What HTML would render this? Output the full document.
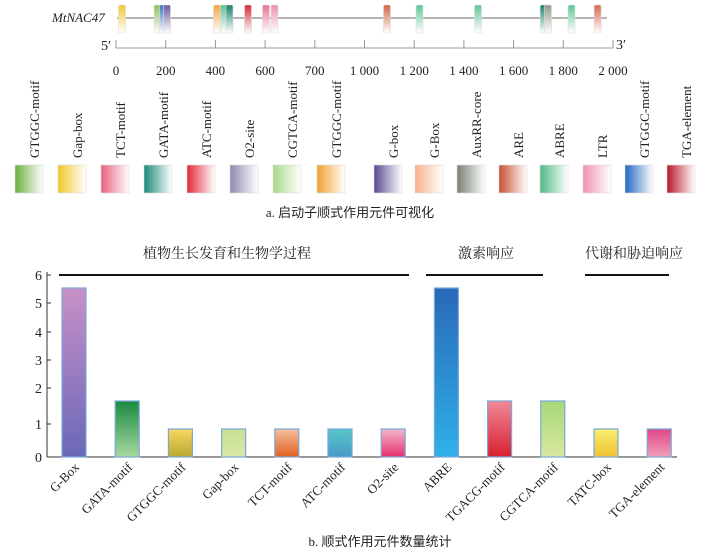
<!DOCTYPE html>
<html><head><meta charset="utf-8"><style>
body{margin:0;background:#fff}
text{font-family:"Liberation Serif","Noto Serif CJK SC",serif;fill:#222}
.cn{font-family:"Liberation Serif","Noto Sans CJK SC",sans-serif}
</style></head><body>
<svg width="702" height="553" viewBox="0 0 702 553" xmlns="http://www.w3.org/2000/svg">
<defs></defs>
<text x="52" y="22" font-size="13" font-style="italic">MtNAC47</text>
<line x1="117" y1="18" x2="607" y2="18" stroke="#888" stroke-width="1.3"/>
<g id="genes"></g>
<line x1="116" y1="48" x2="613" y2="48" stroke="#999" stroke-width="1"/>
<text x="101" y="50" font-size="14">5′</text>
<text x="616" y="49" font-size="14">3′</text>
<g id="ticks" font-size="13" text-anchor="middle"></g>
<g id="legend"></g>
<text x="350" y="217" font-size="13" text-anchor="middle" class="cn">a. 启动子顺式作用元件可视化</text>
<g class="cn" font-size="14" text-anchor="middle">
<text x="227" y="258">植物生长发育和生物学过程</text>
<text x="486" y="258">激素响应</text>
<text x="634" y="258">代谢和胁迫响应</text>
</g>
<line x1="59" y1="275" x2="409" y2="275" stroke="#111" stroke-width="2"/>
<line x1="426" y1="275" x2="543" y2="275" stroke="#111" stroke-width="2"/>
<line x1="585" y1="275" x2="669" y2="275" stroke="#111" stroke-width="2"/>
<line x1="47" y1="272" x2="47" y2="457" stroke="#333"/>
<line x1="47" y1="457" x2="677" y2="457" stroke="#333"/>
<g id="yt" font-size="14" text-anchor="end"></g>
<g id="bars"></g>
<text x="380" y="546" font-size="13" text-anchor="middle" class="cn">b. 顺式作用元件数量统计</text>
</svg>
<script>
const NS="http://www.w3.org/2000/svg";
function el(p,t,a,txt){const e=document.createElementNS(NS,t);for(const k in a)e.setAttribute(k,a[k]);if(txt!==undefined)e.textContent=txt;(typeof p==='string'?document.getElementById(p):p).appendChild(e);return e;}
const defs=document.querySelector('defs');
let gid=0;
function hgrad(c){const id='h'+(gid++);const g=el(defs,'linearGradient',{id:id,x1:0,y1:0,x2:1,y2:0});el(g,'stop',{offset:0,'stop-color':c});el(g,'stop',{offset:1,'stop-color':'#fff'});return id;}
function vgrad(c1,c2){const id='g'+(gid++);const g=el(defs,'linearGradient',{id:id,x1:0,y1:0,x2:0,y2:1});el(g,'stop',{offset:0,'stop-color':c1});el(g,'stop',{offset:1,'stop-color':c2});return id;}
const genes=[[122,'#f2c830'],[157.5,'#8cc060'],[163,'#3a78c8'],[167,'#6a5aa0'],[217,'#f0a840'],[224,'#60c090'],[229.5,'#188070'],[248,'#d02838'],[266,'#ec7090'],[274.5,'#ec90a8'],[387,'#d06848'],[419.5,'#60c898'],[478,'#60c898'],[543.6,'#188070'],[548,'#909a88'],[571.5,'#60c898'],[597.6,'#d86850']];
genes.forEach(([x,c])=>{const id=vgrad(c,'#fff');el('genes','rect',{x:x-3.5,y:5,width:7,height:28,rx:1.5,fill:'url(#'+id+')',stroke:'#ddd','stroke-width':0.6});});
const tl=['0','200','400','600','700','1 000','1 200','1 400','1 600','1 800','2 000'];
tl.forEach((t,i)=>{const x=116+i*49.7;el('ticks','line',{x1:x,y1:40,x2:x,y2:48,stroke:'#999'});el('ticks','text',{x:x,y:75},t);});
const lg=[['GTGGC-motif','#6ab040'],['Gap-box','#f0c828'],['TCT-motif','#e86080'],['GATA-motif','#188878'],['ATC-motif','#e02838'],['O2-site','#9088b0'],['CGTCA-motif','#a8d888'],['GTGGC-motif','#f0a030'],['G-box','#5a4890'],['G-Box','#f8b088'],['AuxRR-core','#788070'],['ARE','#c85030'],['ABRE','#50b888'],['LTR','#f090b0'],['GTGGC-motif','#2068c0'],['TGA-element','#b81828']];
const lx=[15,58,101,144,187,230,273,317,374,415,457,499,540,583,625,667];
lg.forEach(([t,c],i)=>{const id=hgrad(c);const x=lx[i];el('legend','rect',{x:x,y:165,width:28,height:28,fill:'url(#'+id+')',stroke:'#ddd','stroke-width':0.6});el('legend','text',{x:0,y:0,'font-size':13,transform:`translate(${x+24},158) rotate(-90)`},t);});
const yt=[[0,457],[1,424],[2,388],[3,360],[4,332],[5,303],[6,275]];
yt.forEach(([v,y])=>{el('yt','line',{x1:47,y1:y,x2:51,y2:y,stroke:'#333'});el('yt','text',{x:42,y:y+5},v);});
const bars=[['G-Box',288,'#c890c8','#6a68b8'],['GATA-motif',401,'#1a8a40','#a8d8a0'],['GTGGC-motif',429,'#f8d860','#b8a830'],['Gap-box',429,'#c8e090','#d8e8a8'],['TCT-motif',429,'#f4c0a0','#e06020'],['ATC-motif',429,'#58c8c8','#4898c8'],['O2-site',429,'#f0b8c8','#e83070'],['ABRE',288,'#2868b8','#30b0e8'],['TGACG-motif',401,'#f08898','#d82030'],['CGTCA-motif',401,'#a8d878','#d8e8a0'],['TATC-box',429,'#f8f070','#f0c030'],['TGA-element',429,'#e04888','#f0a0b8']];
bars.forEach(([t,top,c1,c2],i)=>{const cx=74+i*53.2;const id=vgrad(c1,c2);el('bars','rect',{x:cx-12,y:top,width:24,height:457-top,fill:'url(#'+id+')',stroke:'#7aa8d8','stroke-width':1.2});el('bars','text',{x:0,y:0,'font-size':13,'text-anchor':'end',transform:`translate(${cx+6},468) rotate(-45)`},t);});
</script>
</body></html>
